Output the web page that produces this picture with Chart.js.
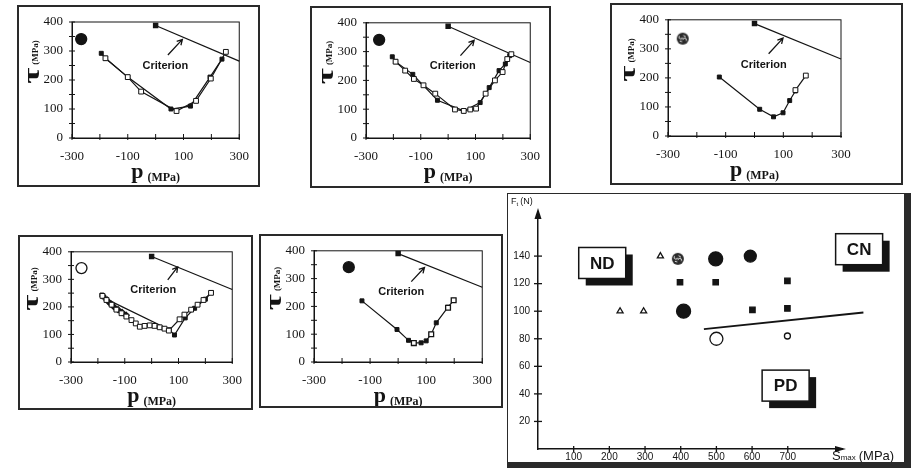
<!DOCTYPE html>
<html>
<head>
<meta charset="utf-8">
<script src="https://cdn.jsdelivr.net/npm/chart.js@4.4.1/dist/chart.umd.min.js"></script>
<style>
  body { margin: 0; width: 919px; height: 473px; background: #fff; position: relative; overflow: hidden; }
  canvas { position: absolute; }
  .frame { position: absolute; box-sizing: border-box; border: 2px solid #2a2a2a; pointer-events: none; }
</style>
</head>
<body>
<script>
const INK = '#141414';

// ticks shared by the five tau-p panels
const p_ticks = [-300, -200, -100, 0, 100, 200, 300];
const p_labels = [-300, -100, 100, 300];
const tau_ticks = [0, 50, 100, 150, 200, 250, 300, 350, 400];
const tau_labels = [0, 100, 200, 300, 400];

// panel 1 (top left)
const p1_criterion = [[0, 388], [300, 265]];
const p1_solid = [[-195, 292], [-180, 275], [-100, 210], [55, 100], [125, 110], [195, 210], [238, 272]];
const p1_open = [[-180, 275], [-100, 210], [-52, 160], [75, 93], [145, 128], [198, 205], [252, 297]];
const p1_symbol = [[-267, 341]];

// panel 2 (top middle)
const p2_criterion = [[0, 388], [300, 262]];
const p2_solid = [[-204, 282], [-192, 265], [-129, 221], [-39, 131], [57, 94], [117, 123], [150, 175], [186, 234], [209, 257], [225, 286]];
const p2_open = [[-192, 265], [-157, 234], [-125, 205], [-90, 183], [-47, 154], [25, 99], [57, 94], [81, 99], [102, 102], [137, 154], [171, 200], [199, 229], [216, 274], [231, 291]];
const p2_symbol = [[-252, 341]];

// panel 3 (top right)
const p3_criterion = [[0, 387], [300, 265]];
const p3_solid = [[-122, 203], [18, 92], [66, 66], [99, 80], [122, 122], [142, 155]];
const p3_open = [[142, 158], [178, 208]];
const p3_symbol = [[-249, 335]];

// panel 4 (bottom left)
const p4_criterion = [[0, 383], [300, 263]];
const p4_solid = [[-185, 243], [-178, 236], [-170, 229], [66, 117], [85, 98], [125, 160], [160, 195], [200, 228], [222, 252]];
const p4_solid_extra = [[-160, 218], [-150, 210], [-140, 200], [-125, 190], [-110, 180], [-95, 170]];
const p4_open = [[-183, 240], [-168, 225], [-149, 208], [-131, 190], [-112, 177], [-94, 165], [-75, 152], [-59, 140], [-44, 128], [-26, 131], [-7, 133], [11, 131], [30, 126], [48, 121], [64, 114], [104, 155], [122, 172], [147, 190], [171, 208], [193, 225], [221, 251]];
const p4_symbol = [[-261, 341]];

// panel 5 (bottom middle)
const p5_criterion = [[0, 390], [300, 269]];
const p5_solid = [[-129, 220], [-4, 117], [37, 78], [56, 69], [82, 69], [100, 76], [118, 100], [136, 141], [178, 197], [198, 222]];
const p5_open = [[56, 68], [118, 100], [178, 195], [198, 222]];
const p5_symbol = [[-176, 341]];

// big panel: F_t (N) against S_max (MPa)
const smax_ticks = [100, 200, 300, 400, 500, 600, 700];
const ft_ticks = [20, 40, 60, 80, 100, 120, 140];
const nd_triangles = [[230, 100], [296, 100], [343, 140]];
const cn_squares = [[398, 121], [498, 121], [699, 122], [601, 101], [699, 102]];
const big_dots = [[498, 138], [408, 100]];
const mid_dots = [[595, 140]];
const hatched_dots = [[392, 138]];
const pd_big_rings = [[500, 80]];
const pd_small_rings = [[699, 82]];
const boundary = [[465, 87], [912, 99]];
const region_names = ['ND', 'CN', 'PD'];
const region_at = [[180, 135], [900, 145], [694, 46]];

const pts = a => a.map(([x, y]) => ({x, y}));

function hatched_symbol(r) {
    const c = document.createElement('canvas');
    c.width = c.height = 2 * r + 2;
    const g = c.getContext('2d');
    const m = r + 1;
    g.fillStyle = '#2a2a2a';
    g.beginPath(); g.arc(m, m, r, 0, 2 * Math.PI); g.fill();
    g.strokeStyle = '#eee'; g.lineWidth = 1;
    g.beginPath(); g.arc(m - r * 0.35, m - r * 0.25, r * 0.28, 0.2, Math.PI * 1.3); g.stroke();
    g.beginPath(); g.arc(m + r * 0.3, m + r * 0.2, r * 0.3, Math.PI, Math.PI * 2.2); g.stroke();
    g.beginPath(); g.moveTo(m - r * 0.5, m + r * 0.4); g.lineTo(m - r * 0.1, m + r * 0.5); g.stroke();
    g.beginPath(); g.moveTo(m + r * 0.1, m - r * 0.55); g.lineTo(m + r * 0.5, m - r * 0.3); g.stroke();
    return c;
}

function make_canvas(id, f, border) {
    const c = document.createElement('canvas');
    c.id = id;
    c.width = f.w; c.height = f.h;
    c.style.left = f.x + 'px'; c.style.top = f.y + 'px';
    c.style.width = f.w + 'px'; c.style.height = f.h + 'px';
    document.body.appendChild(c);
    const d = document.createElement('div');
    d.className = 'frame';
    d.style.left = f.x + 'px'; d.style.top = f.y + 'px';
    d.style.width = f.w + 'px'; d.style.height = f.h + 'px';
    if (border) d.style.borderWidth = border;
    document.body.appendChild(d);
    return c;
}

function path_set(data, open) {
    return {
        data: pts(data), showLine: true, borderColor: INK, borderWidth: 1.2,
        pointStyle: 'rect', pointRadius: open ? 3.4 : 2.8, pointBorderWidth: 1,
        pointBackgroundColor: open ? '#fff' : INK, pointBorderColor: INK, clip: false
    };
}

function marks_set(data, style, r, fill) {
    return {
        data: pts(data), showLine: false, pointStyle: style, pointRadius: r,
        pointBackgroundColor: fill, pointBorderColor: INK, pointBorderWidth: 1.3, clip: false
    };
}

function criterion_set(data) {
    return {
        data: pts(data), showLine: true, borderColor: INK, borderWidth: 1.2,
        pointStyle: 'rect', pointRadius: [3, 0], pointBackgroundColor: INK, pointBorderColor: INK, clip: false
    };
}

function draw_arrow(ctx, x0, y0, x1, y1, head) {
    const ang = Math.atan2(y1 - y0, x1 - x0);
    ctx.beginPath();
    ctx.moveTo(x0, y0); ctx.lineTo(x1, y1);
    ctx.moveTo(x1 - head * Math.cos(ang - 0.5), y1 - head * Math.sin(ang - 0.5));
    ctx.lineTo(x1, y1);
    ctx.lineTo(x1 - head * Math.cos(ang + 0.5), y1 - head * Math.sin(ang + 0.5));
    ctx.stroke();
}

function tau_p_plugin(note) {
    return {
        id: 'tau_p',
        afterDraw(chart) {
            const {ctx, chartArea: a, scales: {x, y}} = chart;
            ctx.save();
            ctx.strokeStyle = INK; ctx.fillStyle = INK; ctx.lineWidth = 1;
            ctx.strokeRect(a.left, a.top, a.right - a.left, a.bottom - a.top);

            for (const v of p_ticks) {
                const px = x.getPixelForValue(v);
                ctx.beginPath(); ctx.moveTo(px, a.bottom - 4); ctx.lineTo(px, a.bottom + 2); ctx.stroke();
            }
            for (const v of tau_ticks) {
                const py = y.getPixelForValue(v);
                ctx.beginPath(); ctx.moveTo(a.left - 3, py); ctx.lineTo(a.left + 3, py); ctx.stroke();
            }

            // "Criterion" label with its arrow
            ctx.font = 'bold 11px "Liberation Sans"';
            ctx.textAlign = 'center'; ctx.textBaseline = 'middle';
            ctx.fillText('Criterion', x.getPixelForValue(note.text[0]), y.getPixelForValue(note.text[1]));
            ctx.lineWidth = 1.3;
            draw_arrow(ctx, x.getPixelForValue(note.arrow[0][0]), y.getPixelForValue(note.arrow[0][1]),
                x.getPixelForValue(note.arrow[1][0]), y.getPixelForValue(note.arrow[1][1]), 6);

            // y title: tau (MPa), rotated; the tau is drawn wide like the scan
            const cy = (a.top + a.bottom) / 2 - 18;
            ctx.save();
            ctx.translate(a.left - 39, cy);
            ctx.rotate(-Math.PI / 2);
            ctx.textAlign = 'left'; ctx.textBaseline = 'alphabetic';
            const f1 = 'bold 24px "Liberation Serif"', f2 = 'bold 9px "Liberation Serif"';
            const stretch = 1.45;
            ctx.font = f1; const w1 = ctx.measureText('τ').width * stretch;
            ctx.font = f2; const w2 = ctx.measureText('(MPa)').width;
            const x0 = -(w1 + 3 + w2) / 2;
            ctx.save();
            ctx.translate(x0, 6);
            ctx.scale(stretch, 1);
            ctx.font = f1; ctx.fillText('τ', 0, 0);
            ctx.restore();
            ctx.font = f2; ctx.fillText('(MPa)', x0 + w1 + 3, 5);
            ctx.restore();

            // x title: p (MPa)
            const g1 = 'bold 22px "Liberation Serif"', g2 = 'bold 12px "Liberation Serif"';
            ctx.textAlign = 'left'; ctx.textBaseline = 'alphabetic';
            ctx.font = g1; const v1 = ctx.measureText('p').width;
            ctx.font = g2; const v2 = ctx.measureText('(MPa)').width;
            const sx = (a.left + a.right) / 2 - (v1 + 4 + v2) / 2;
            ctx.font = g1; ctx.fillText('p', sx, a.bottom + 40);
            ctx.font = g2; ctx.fillText('(MPa)', sx + v1 + 4, a.bottom + 43);
            ctx.restore();
        }
    };
}

function tau_p_panel(id, frame, plot, datasets, note) {
    const cv = make_canvas(id, frame);
    return new Chart(cv, {
        type: 'scatter',
        data: {datasets: datasets},
        options: {
            responsive: false,
            animation: false,
            devicePixelRatio: 1,
            events: [],
            layout: {
                autoPadding: false,
                padding: {left: 0, bottom: 0, top: plot.t - frame.y, right: frame.x + frame.w - plot.r}
            },
            plugins: {legend: {display: false}, tooltip: {enabled: false}},
            scales: {
                x: {
                    type: 'linear', min: -300, max: 300,
                    afterBuildTicks: s => { s.ticks = p_ticks.map(v => ({value: v})); },
                    afterFit: s => { s.height = frame.y + frame.h - plot.b; },
                    grid: {drawOnChartArea: false, drawTicks: false},
                    border: {color: INK, width: 1},
                    ticks: {
                        autoSkip: false, maxRotation: 0, padding: 11, color: INK,
                        font: {family: '"Liberation Serif"', size: 13},
                        callback: v => p_labels.includes(v) ? String(v) : ''
                    }
                },
                y: {
                    type: 'linear', min: 0, max: 400,
                    afterBuildTicks: s => { s.ticks = tau_ticks.map(v => ({value: v})); },
                    afterFit: s => { s.width = plot.l - frame.x; },
                    grid: {drawOnChartArea: false, drawTicks: false},
                    border: {color: INK, width: 1},
                    ticks: {
                        autoSkip: false, padding: 9, color: INK,
                        font: {family: '"Liberation Serif"', size: 13},
                        callback: v => tau_labels.includes(v) ? String(v) : ''
                    }
                }
            }
        },
        plugins: [tau_p_plugin(note)]
    });
}

// ---- the five tau-p panels ----
tau_p_panel('panel_1', {x: 17, y: 5, w: 243, h: 182}, {l: 72, t: 22, r: 240, b: 138}, [
    marks_set(p1_symbol, 'circle', 5.5, INK),
    path_set(p1_open, true),
    path_set(p1_solid, false),
    criterion_set(p1_criterion)
], {text: [35, 249], arrow: [[44, 286], [96, 340]]});

tau_p_panel('panel_2', {x: 310, y: 6, w: 241, h: 182}, {l: 366, t: 22, r: 533, b: 138}, [
    marks_set(p2_symbol, 'circle', 5.5, INK),
    path_set(p2_open, true),
    path_set(p2_solid, false),
    criterion_set(p2_criterion)
], {text: [17, 249], arrow: [[45, 286], [95, 339]]});

tau_p_panel('panel_3', {x: 610, y: 3, w: 293, h: 182}, {l: 668, t: 19, r: 841, b: 136}, [
    marks_set(p3_symbol, hatched_symbol(6), 6, INK),
    path_set(p3_open, true),
    path_set(p3_solid, false),
    criterion_set(p3_criterion)
], {text: [32, 246], arrow: [[49, 283], [99, 337]]});

tau_p_panel('panel_4', {x: 18, y: 235, w: 235, h: 175}, {l: 71, t: 249, r: 233, b: 362}, [
    marks_set(p4_symbol, 'circle', 5.5, '#fff'),
    path_set(p4_open, true),
    marks_set(p4_solid_extra, 'rectRot', 3, INK),
    path_set(p4_solid, false),
    criterion_set(p4_criterion)
], {text: [6, 260], arrow: [[60, 298], [97, 345]]});

tau_p_panel('panel_5', {x: 259, y: 234, w: 244, h: 174}, {l: 314, t: 248, r: 483, b: 362}, [
    marks_set(p5_symbol, 'circle', 5.5, INK),
    marks_set(p5_open, 'rect', 3.4, '#fff'),
    path_set(p5_solid, false),
    criterion_set(p5_criterion)
], {text: [11, 253], arrow: [[47, 289], [94, 340]]});

// ---- big panel: fatigue map ----
const big_plugin = {
    id: 'fatigue_map',
    afterDraw(chart) {
        const {ctx, chartArea: a, scales: {x, y}} = chart;
        ctx.save();
        ctx.strokeStyle = INK; ctx.fillStyle = INK; ctx.lineWidth = 1.3;
        for (const v of smax_ticks) {
            const px = x.getPixelForValue(v);
            ctx.beginPath(); ctx.moveTo(px, a.bottom - 3); ctx.lineTo(px, a.bottom + 3); ctx.stroke();
        }
        for (const v of ft_ticks) {
            const py = y.getPixelForValue(v);
            ctx.beginPath(); ctx.moveTo(a.left - 4, py); ctx.lineTo(a.left + 4, py); ctx.stroke();
        }
        // arrow heads on the axes
        ctx.beginPath();
        ctx.moveTo(a.left, a.top - 4); ctx.lineTo(a.left - 3.5, a.top + 7); ctx.lineTo(a.left + 3.5, a.top + 7);
        ctx.closePath(); ctx.fill();
        ctx.beginPath();
        ctx.moveTo(a.right + 4, a.bottom); ctx.lineTo(a.right - 7, a.bottom - 3); ctx.lineTo(a.right - 7, a.bottom + 3);
        ctx.closePath(); ctx.fill();

        // axis titles
        ctx.textAlign = 'left'; ctx.textBaseline = 'alphabetic';
        let tx = a.left - 27;
        ctx.font = '9px "Liberation Sans"'; ctx.fillText('F', tx, a.top - 8);
        tx += ctx.measureText('F').width;
        ctx.font = '6px "Liberation Sans"'; ctx.fillText('t', tx, a.top - 6);
        tx += ctx.measureText('t').width + 2;
        ctx.font = '9px "Liberation Sans"'; ctx.fillText('(N)', tx, a.top - 8);

        let sx = a.right - 10;
        const base = a.bottom + 11;
        ctx.font = '13px "Liberation Sans"'; ctx.fillText('S', sx, base);
        sx += ctx.measureText('S').width;
        ctx.font = '8px "Liberation Sans"'; ctx.fillText('max', sx, base);
        sx += ctx.measureText('max').width + 3;
        ctx.font = '13px "Liberation Sans"'; ctx.fillText('(MPa)', sx, base);

        // region labels in shadowed boxes
        ctx.font = 'bold 17px "Liberation Sans"';
        ctx.textAlign = 'center'; ctx.textBaseline = 'middle';
        region_names.forEach((name, i) => {
            const cx = x.getPixelForValue(region_at[i][0]);
            const cy = y.getPixelForValue(region_at[i][1]);
            const w = 47, h = 31;
            ctx.fillStyle = INK;
            ctx.fillRect(cx - w / 2 + 7, cy - h / 2 + 7, w, h);
            ctx.fillStyle = '#fff';
            ctx.fillRect(cx - w / 2, cy - h / 2, w, h);
            ctx.lineWidth = 1.5;
            ctx.strokeRect(cx - w / 2, cy - h / 2, w, h);
            ctx.fillStyle = INK;
            ctx.fillText(name, cx, cy + 1);
        });
        ctx.restore();
    }
};

const big_frame = {x: 507, y: 193, w: 404, h: 275};
const big_plot = {l: 538, t: 212, r: 842, b: 449};
new Chart(make_canvas('panel_map', big_frame, '1.5px 7px 6px 1.5px'), {
    type: 'scatter',
    data: {
        datasets: [
            marks_set(hatched_dots, hatched_symbol(6), 6, INK),
            marks_set(big_dots, 'circle', 7, INK),
            marks_set(mid_dots, 'circle', 6, INK),
            marks_set(pd_big_rings, 'circle', 6.5, '#fff'),
            marks_set(pd_small_rings, 'circle', 3, '#fff'),
            marks_set(cn_squares, 'rect', 3.8, INK),
            marks_set(nd_triangles, 'triangle', 3.5, '#fff'),
            {
                data: pts(boundary), showLine: true, borderColor: INK, borderWidth: 2,
                pointRadius: 0, clip: false
            }
        ]
    },
    options: {
        responsive: false,
        animation: false,
        devicePixelRatio: 1,
        events: [],
        layout: {
            autoPadding: false,
            padding: {left: 0, bottom: 0, top: big_plot.t - big_frame.y, right: big_frame.x + big_frame.w - big_plot.r}
        },
        plugins: {legend: {display: false}, tooltip: {enabled: false}},
        scales: {
            x: {
                type: 'linear', min: 0, max: 852,
                afterBuildTicks: s => { s.ticks = smax_ticks.map(v => ({value: v})); },
                afterFit: s => { s.height = big_frame.y + big_frame.h - big_plot.b; },
                grid: {drawOnChartArea: false, drawTicks: false},
                border: {color: INK, width: 1.5},
                ticks: {autoSkip: false, maxRotation: 0, padding: 2, color: INK, font: {family: '"Liberation Sans"', size: 10}}
            },
            y: {
                type: 'linear', min: 0, max: 172,
                afterBuildTicks: s => { s.ticks = ft_ticks.map(v => ({value: v})); },
                afterFit: s => { s.width = big_plot.l - big_frame.x; },
                grid: {drawOnChartArea: false, drawTicks: false},
                border: {color: INK, width: 1.5},
                ticks: {autoSkip: false, padding: 8, color: INK, font: {family: '"Liberation Sans"', size: 10}}
            }
        }
    },
    plugins: [big_plugin]
});
</script>
</body>
</html>
